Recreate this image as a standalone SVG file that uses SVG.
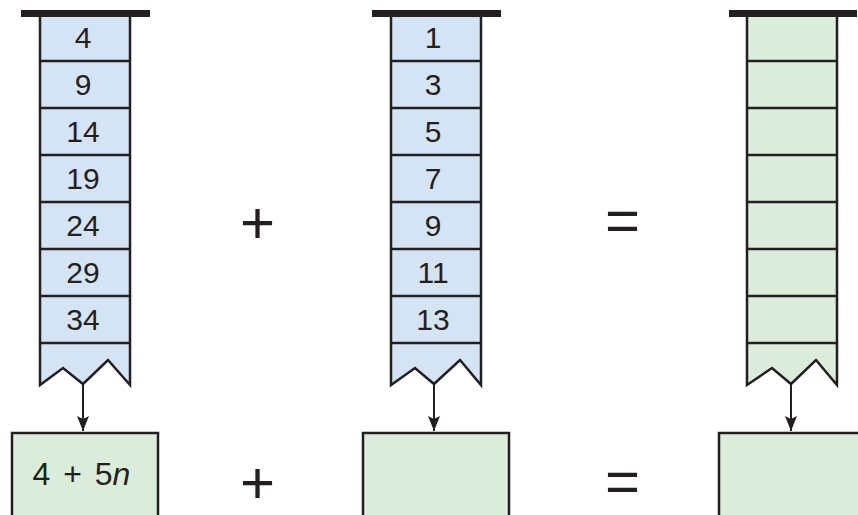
<svg xmlns="http://www.w3.org/2000/svg" width="858" height="515" viewBox="0 0 858 515">
<defs>
<style>
.bar{fill:#231f20}
.colb{fill:#d5e4f4;stroke:#231f20;stroke-width:2.5;stroke-linejoin:miter}
.colg{fill:#dcecdb;stroke:#231f20;stroke-width:2.5;stroke-linejoin:miter}
.div{stroke:#231f20;stroke-width:2.5}
.box{fill:#dcecdb;stroke:#231f20;stroke-width:2.5}
.num{font-family:"Liberation Sans",Arial,sans-serif;font-size:30px;fill:#231f20;text-anchor:middle}
.op{font-family:"Liberation Sans",Arial,sans-serif;font-size:60px;fill:#231f20;text-anchor:middle}
.lbl{font-family:"Liberation Sans",Arial,sans-serif;font-size:32px;fill:#231f20;word-spacing:4px}
.conn{stroke:#231f20;stroke-width:2;fill:none}
</style>
<marker id="ah" viewBox="0 0 15 12" refX="15" refY="6" markerWidth="15" markerHeight="12" markerUnits="userSpaceOnUse" orient="auto">
<path d="M0,0 L15,6 L0,12 L3,6 Z" fill="#231f20"/>
</marker>
</defs>

<g id="column1">
<path class="colb" d="M40,15 L40,385 L63,368 L83,384 L108,360 L130,385 L130,15"/>
<rect class="bar" x="21" y="10" width="129" height="7"/>
<g class="div">
<line x1="40" y1="61" x2="130" y2="61"/><line x1="40" y1="108" x2="130" y2="108"/>
<line x1="40" y1="155" x2="130" y2="155"/><line x1="40" y1="202" x2="130" y2="202"/>
<line x1="40" y1="249" x2="130" y2="249"/><line x1="40" y1="296" x2="130" y2="296"/>
<line x1="40" y1="343" x2="130" y2="343"/>
</g>
<text class="num" x="83" y="48">4</text>
<text class="num" x="83" y="95">9</text>
<text class="num" x="83" y="142">14</text>
<text class="num" x="83" y="189">19</text>
<text class="num" x="83" y="236">24</text>
<text class="num" x="83" y="283">29</text>
<text class="num" x="83" y="330">34</text>
</g>

<g id="column2">
<path class="colb" d="M391,15 L391,385 L415,368 L434,384 L460,360 L481,385 L481,15"/>
<rect class="bar" x="372" y="10" width="129" height="7"/>
<g class="div">
<line x1="391" y1="61" x2="481" y2="61"/><line x1="391" y1="108" x2="481" y2="108"/>
<line x1="391" y1="155" x2="481" y2="155"/><line x1="391" y1="202" x2="481" y2="202"/>
<line x1="391" y1="249" x2="481" y2="249"/><line x1="391" y1="296" x2="481" y2="296"/>
<line x1="391" y1="343" x2="481" y2="343"/>
</g>
<text class="num" x="433" y="48">1</text>
<text class="num" x="433" y="95">3</text>
<text class="num" x="433" y="142">5</text>
<text class="num" x="433" y="189">7</text>
<text class="num" x="433" y="236">9</text>
<text class="num" x="433" y="283">11</text>
<text class="num" x="433" y="330">13</text>
</g>

<g id="column3">
<path class="colg" d="M747,15 L747,385 L772,368 L791,384 L816,360 L837,385 L837,15"/>
<rect class="bar" x="729" y="10" width="128" height="7"/>
<g class="div">
<line x1="747" y1="61" x2="837" y2="61"/><line x1="747" y1="108" x2="837" y2="108"/>
<line x1="747" y1="155" x2="837" y2="155"/><line x1="747" y1="202" x2="837" y2="202"/>
<line x1="747" y1="249" x2="837" y2="249"/><line x1="747" y1="296" x2="837" y2="296"/>
<line x1="747" y1="343" x2="837" y2="343"/>
</g>
</g>

<g id="box1">
<rect class="box" x="12" y="433" width="146" height="100"/>
<text class="lbl" x="32.5" y="485">4 + 5<tspan font-style="italic">n</tspan></text>
</g>
<g id="box2">
<rect class="box" x="363" y="433" width="146" height="100"/>
</g>
<g id="box3">
<rect class="box" x="719" y="433" width="160" height="100"/>
</g>

<g id="operators">
<text class="op" x="257.5" y="242.5">+</text>
<text class="op" x="622.5" y="240.5">=</text>
<text class="op" x="257.5" y="503">+</text>
<text class="op" x="622.5" y="501.5">=</text>
</g>

<g id="connectors">
<line class="conn" x1="83" y1="384" x2="83" y2="431" marker-end="url(#ah)"/>
<line class="conn" x1="434" y1="384" x2="434" y2="431" marker-end="url(#ah)"/>
<line class="conn" x1="791" y1="384" x2="791" y2="431" marker-end="url(#ah)"/>
</g>
</svg>
